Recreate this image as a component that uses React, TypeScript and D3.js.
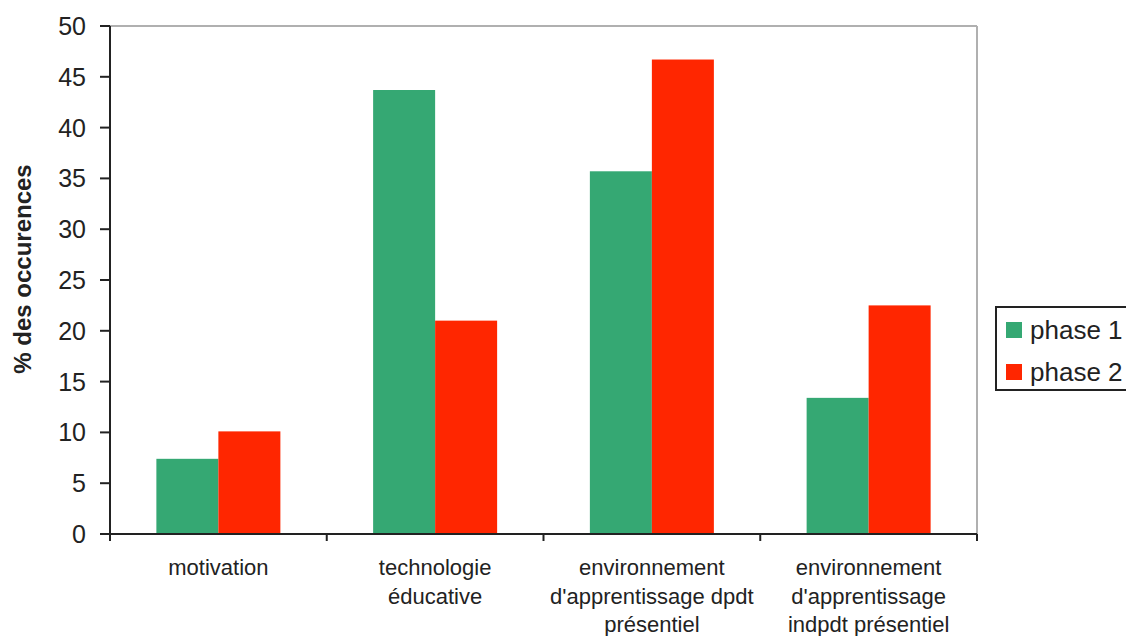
import React from "react";
import * as d3 from "d3";

const categories = [
  ["motivation"],
  ["technologie", "éducative"],
  ["environnement", "d'apprentissage dpdt", "présentiel"],
  ["environnement", "d'apprentissage", "indpdt présentiel"],
];
const categoryKeys = ["motivation", "technologie", "dpdt", "indpdt"];
const seriesNames = ["phase 1", "phase 2"];
const phase1 = [7.4, 43.7, 35.7, 13.4];
const phase2 = [10.1, 21.0, 46.7, 22.5];
const yTicks = [0, 5, 10, 15, 20, 25, 30, 35, 40, 45, 50];
const colors = ["#35a873", "#ff2600"];

export default function App() {
  const W = 1126, H = 636;
  const left = 110, right = 977, top = 26, bottom = 534;
  const y = d3.scaleLinear().domain([0, 50]).range([bottom, top]);
  const x0 = d3.scaleBand<string>().domain(categoryKeys).range([left, right]).padding(0);
  const x1 = d3.scaleBand<string>().domain(seriesNames).range([0, x0.bandwidth()]).paddingInner(0).paddingOuter(0.748);
  const values = [phase1, phase2];
  const font = "'Liberation Sans', Arial, sans-serif";
  return (
    <svg width={W} height={H} style={{ position: "absolute", left: 0, top: 0, background: "#fff" }} fontFamily={font}>
      <rect x={0} y={0} width={W} height={H} fill="#fff" />
      {/* plot frame */}
      <line x1={left} y1={top} x2={right} y2={top} stroke="#b0b0b0" strokeWidth={2} />
      <line x1={right} y1={top} x2={right} y2={bottom} stroke="#b0b0b0" strokeWidth={2} />
      {/* bars */}
      {categoryKeys.map((c, i) =>
        seriesNames.map((s, j) => (
          <rect
            key={c + s}
            x={(x0(c) as number) + (x1(s) as number)}
            y={y(values[j][i])}
            width={x1.bandwidth()}
            height={bottom - y(values[j][i])}
            fill={colors[j]}
          />
        ))
      )}
      {/* y axis */}
      <line x1={left} y1={top} x2={left} y2={bottom} stroke="#222" strokeWidth={2} />
      {yTicks.map((t) => (
        <g key={t}>
          <line x1={left - 10} x2={left} y1={y(t)} y2={y(t)} stroke="#222" strokeWidth={2} />
          <text x={86} y={y(t)} dy="0.36em" textAnchor="end" fontSize={25} fill="#222">
            {t}
          </text>
        </g>
      ))}
      {/* x axis */}
      <line x1={left} y1={bottom} x2={right} y2={bottom} stroke="#222" strokeWidth={2} />
      {categoryKeys.map((c) => (
        <line key={"t" + c} x1={x0(c) as number} x2={x0(c) as number} y1={bottom} y2={bottom + 7} stroke="#222" strokeWidth={2} />
      ))}
      <line x1={right} x2={right} y1={bottom} y2={bottom + 7} stroke="#222" strokeWidth={2} />
      {categories.map((lines, i) => (
        <text key={"l" + i} textAnchor="middle" fontSize={22} fill="#222">
          {lines.map((ln, k) => (
            <tspan key={k} x={(x0(categoryKeys[i]) as number) + x0.bandwidth() / 2} y={575 + k * 28.5}>
              {ln}
            </tspan>
          ))}
        </text>
      ))}
      {/* y label */}
      <text transform={`translate(31, 269) rotate(-90)`} textAnchor="middle" fontSize={24} fontWeight="bold" fill="#222">
        % des occurences
      </text>
      {/* legend */}
      <rect x={996} y={307} width={160} height={83} fill="#fff" stroke="#222" strokeWidth={2} />
      {seriesNames.map((s, j) => (
        <g key={"lg" + s}>
          <rect x={1006} y={322 + j * 42} width={16} height={16} fill={colors[j]} />
          <text x={1030} y={330 + j * 42} dy="0.36em" fontSize={26} fill="#222">
            {s}
          </text>
        </g>
      ))}
    </svg>
  );
}
